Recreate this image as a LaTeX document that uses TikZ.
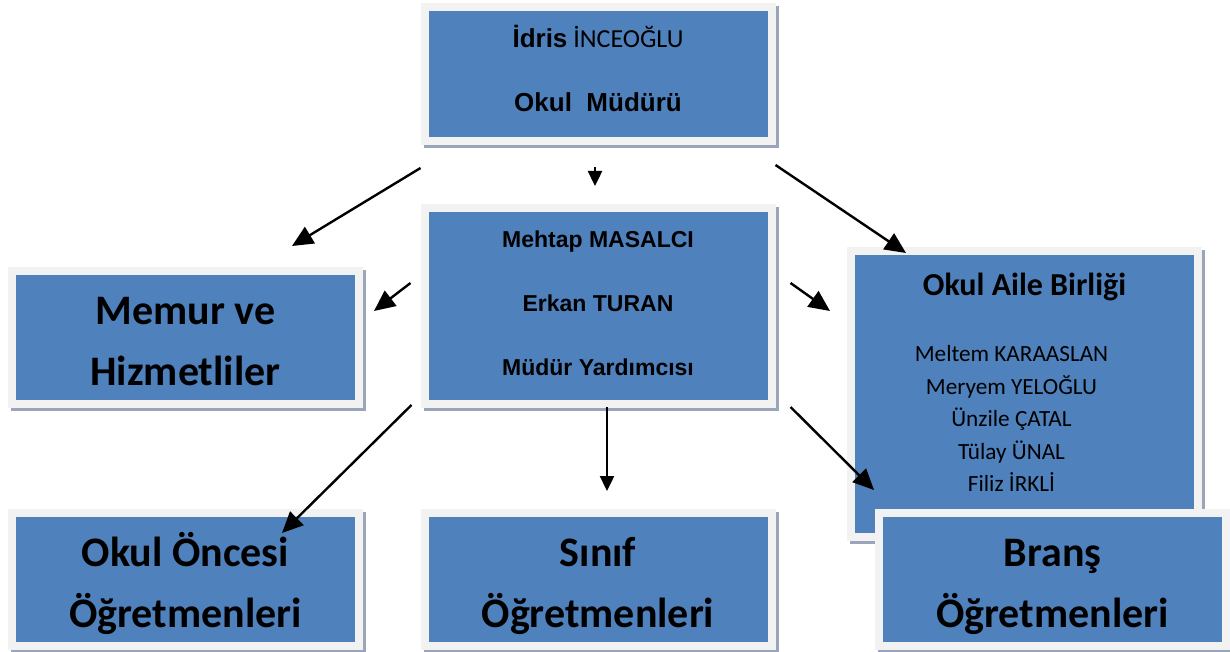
\documentclass[tikz,border=0pt]{standalone}
\usepackage{fontspec}
\setmainfont{Carlito}
\newfontfamily\arialfont{Liberation Sans}
\usepackage{tikz}
\usepackage{xcolor}
\usetikzlibrary{arrows.meta,positioning,calc,shadows}
\definecolor{boxblue}{RGB}{79,129,189}
\definecolor{framegray}{RGB}{242,242,242}
\definecolor{shadowgray}{RGB}{155,165,185}
% invisible struts: height above the first line, depth below the last one
\newcommand{\tophgt}[1]{\rule{0pt}{#1}}
\newcommand{\botdep}[1]{\rule[-#1]{0pt}{0pt}}
% member lines sit a bit left of the title
\newcommand{\uye}[1]{#1\hspace*{13pt}\null}

\begin{document}
\begin{tikzpicture}[
            x=0.5pt, y=-0.5pt,
            box/.style={rectangle, fill=boxblue, draw=framegray, line width=4pt,
                        general shadow={draw=shadowgray, line width=4pt, shadow xshift=1.5pt, shadow yshift=-1.5pt},
                        minimum width=173.5pt, minimum height=66.5pt, inner sep=0pt, align=center},
            big/.style={font=\fontsize{21}{30.5}\selectfont\bfseries},
            arrow/.style={-{Triangle[length=10.5pt,width=9.5pt]}, line width=1.2pt, black},
            short/.style={-{Triangle[length=7.5pt,width=7pt]}}
        ]
            \useasboundingbox (0,0) rectangle (1230,652);

            % Nodes - Row 1
            \node[box, minimum height=67pt, font=\fontsize{13}{32}\selectfont] (mudur) at (598,74)
                {\tophgt{16pt}{\arialfont\bfseries İdris} İNCEOĞLU\\{\arialfont\bfseries Okul\ \ Müdürü}\botdep{10.5pt}};

            % Nodes - Row 2
            \node[box, big] (memur) at (185.5,337.5) {\tophgt{26pt}Memur ve\\Hizmetliler\botdep{8.25pt}};
            \node[box, minimum height=98pt, font=\fontsize{11.5}{32}\selectfont\arialfont\bfseries] (yrd) at (598,306)
                {\tophgt{16pt}Mehtap MASALCI\\Erkan TURAN\\Müdür Yardımcısı\botdep{10.85pt}};
            \node[box, minimum height=143pt, font=\fontsize{11.6}{16.25}\selectfont] (aile) at (1024.5,394)
                {\tophgt{20pt}{\fontsize{16}{16}\selectfont\bfseries Okul Aile Birliği}\\[17.05pt]
                 \uye{Meltem KARAASLAN}\\\uye{Meryem YELOĞLU}\\\uye{Ünzile ÇATAL}\\\uye{Tülay ÜNAL}\\\uye{Filiz İRKLİ}\botdep{20.65pt}};

            % Nodes - Row 3
            \node[box, big] (oncesi) at (185.5,579.5) {\tophgt{26pt}Okul Öncesi\\Öğretmenleri\botdep{8.25pt}};
            \node[box, big] (sinif) at (598,579.5) {\tophgt{26pt}Sınıf\\Öğretmenleri\botdep{8.25pt}};
            \node[box, big] (brans) at (1052.5,579.5) {\tophgt{26pt}Branş\\Öğretmenleri\botdep{8.25pt}};

            % Arrows
            \draw[arrow] ($(mudur.south west)+(0,23)$) -- ($(memur.north east)+(-71,-21)$);
            \draw[arrow, short] ($(mudur.south)+(-3,22)$) -- ($(yrd.north)+(-3,-18)$);
            \draw[arrow] ($(mudur.south east)+(0,20)$) -- ($(aile.north west)+(59,6)$);
            \draw[arrow] ($(yrd.west)+(-10,-23)$) -- ($(memur.east)+(11,-26.5)$);
            \draw[arrow] ($(yrd.east)+(15,-23)$) -- ($(aile.west)+(-17,-83)$);
            \draw[arrow] ($(yrd.south west)+(-9,-3)$) -- ($(oncesi.north east)+(-81,24)$);
            \draw[arrow, short] ($(yrd.south)+(9,-1)$) -- ($(sinif.north)+(9,-18)$);
            \draw[arrow] ($(yrd.south east)+(15,-1)$) -- ($(brans.north west)+(-1,-19)$);
        \end{tikzpicture}
\end{document}
